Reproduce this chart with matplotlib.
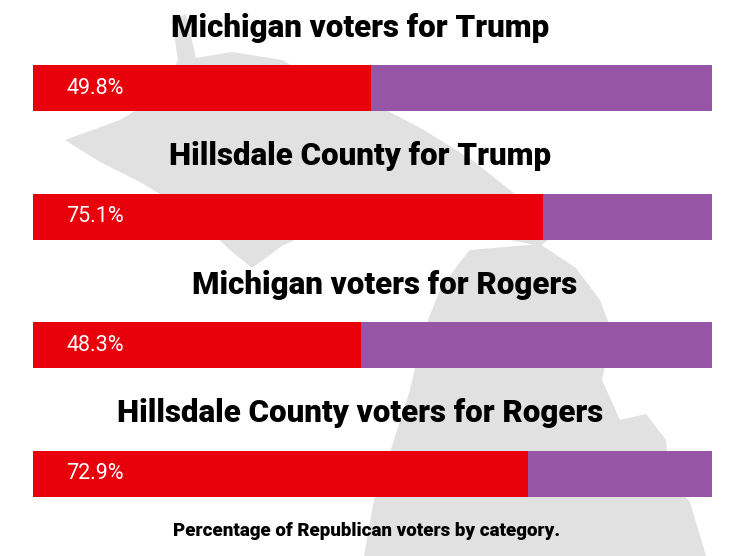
import matplotlib.pyplot as plt
from matplotlib.patches import Polygon

# data
titles = ['Michigan voters for Trump', 'Hillsdale County for Trump',
          'Michigan voters for Rogers', 'Hillsdale County voters for Rogers']
gop_pct = [49.8, 75.1, 48.3, 72.9]
footnote = 'Percentage of Republican voters by category.'

RED = '#E8000B'
PURPLE = '#9655A5'
MAP_GREY = '#E1E1E1'

# rough state outline for the background (pixel coords of the 744x556 canvas)
upper_peninsula = [(65, 140), (120, 120), (160, 96), (178, 60), (172, 20), (186, 14),
                   (196, 58), (232, 52), (282, 60), (332, 88), (382, 108), (424, 130),
                   (472, 160), (520, 198), (562, 230), (540, 246), (490, 236),
                   (430, 226), (372, 216), (322, 226), (282, 246), (252, 268),
                   (230, 250), (190, 212), (140, 182), (100, 162)]
lower_peninsula = [(470, 250), (540, 244), (576, 268), (600, 300), (612, 332),
                   (602, 380), (620, 420), (646, 414), (666, 440), (670, 480),
                   (690, 502), (706, 556), (364, 556), (374, 500), (394, 440),
                   (410, 390), (424, 330), (440, 290), (460, 262)]

fig = plt.figure(figsize=(7.44, 5.56), dpi=100)
fig.patch.set_facecolor('white')

bg = fig.add_axes([0, 0, 1, 1])
bg.set_xlim(0, 744)
bg.set_ylim(556, 0)
bg.axis('off')
for outline in (upper_peninsula, lower_peninsula):
    bg.add_patch(Polygon(outline, closed=True, facecolor=MAP_GREY, edgecolor='none'))

ax = fig.add_axes([33 / 744, 0, 679 / 744, 1])
ax.patch.set_alpha(0)
ax.set_xlim(0, 100)
ax.set_ylim(3.642, -0.685)
ax.axis('off')

y = list(range(len(titles)))
rest = [100 - p for p in gop_pct]
ax.barh(y, gop_pct, height=0.358, color=RED, zorder=2)
ax.barh(y, rest, left=gop_pct, height=0.358, color=PURPLE, zorder=2)

title_x = [48.2, 48.2, 51.8, 48.2]
for i, (t, p) in enumerate(zip(titles, gop_pct)):
    ax.text(title_x[i], i - 0.47, t, ha='center', va='center', fontsize=22.5,
            fontweight='black', family='Roboto', color='black')
    ax.text(4.9, i, f'{p}%', ha='left', va='center', fontsize=15.5,
            family='Roboto', color='white', zorder=3)

fig.text(367 / 744, 1 - 531 / 556, footnote, ha='center', va='center',
         fontsize=13.5, fontweight='black', family='Roboto')

fig.savefig('out.png', dpi=100)
